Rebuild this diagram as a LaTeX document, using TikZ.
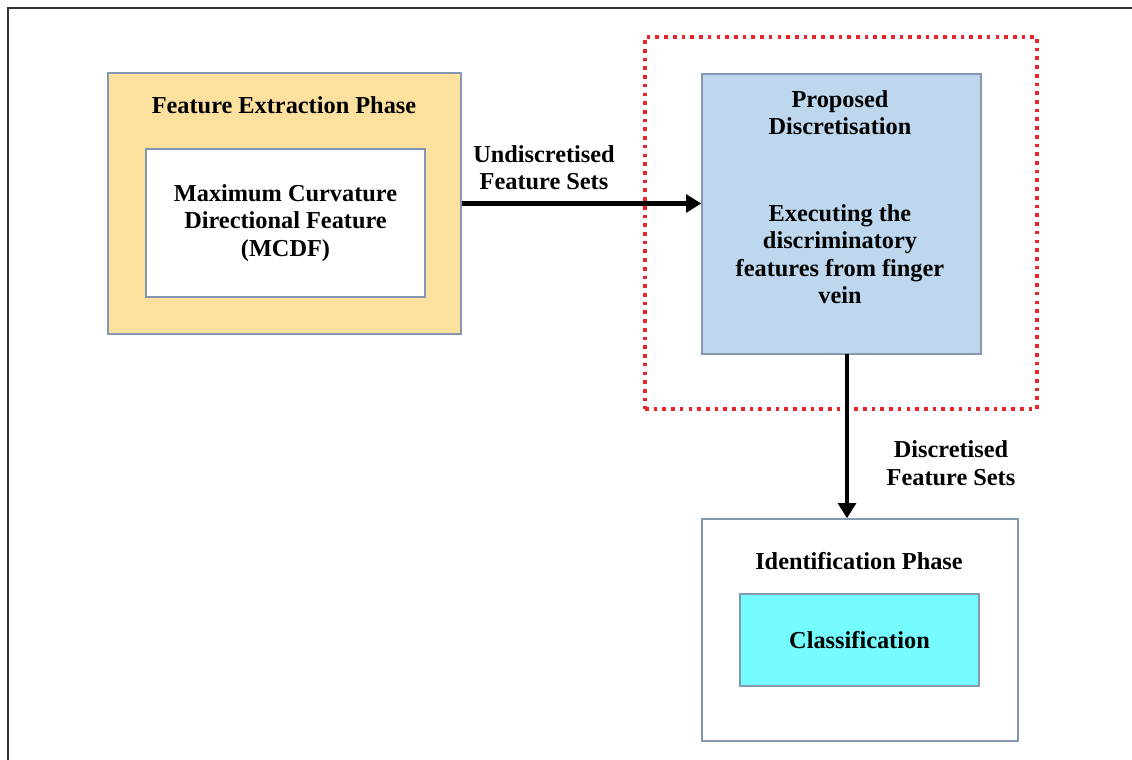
\documentclass[tikz,border=0pt]{standalone}
\usepackage{fontspec}
\setmainfont{Liberation Serif}
\usepackage{xcolor}
\usepackage{tikz}
\usetikzlibrary{positioning}
\usetikzlibrary{calc}
\usetikzlibrary{arrows.meta}

\definecolor{phaseyellow}{HTML}{FCE19E}
\definecolor{propblue}{HTML}{BDD7EE}
\definecolor{classcyan}{HTML}{75FCFE}
\definecolor{boxedge}{HTML}{8498B2}
\definecolor{dotred}{HTML}{E8262A}

\tikzset{
    phasebox/.style={draw=boxedge, line width=0.9pt, inner sep=0pt},
    lbl/.style={font=\fontsize{17.3}{19.5}\selectfont\bfseries, align=center, inner sep=0pt},
    flow/.style={line width=3.1pt, -{Triangle[length=0.38cm,width=0.44cm]}},
}

\begin{document}
\begin{tikzpicture}[x=0.025cm,y=-0.025cm]
    \useasboundingbox (0,0) rectangle (1132,760);
    \coordinate (fr1) at (8,760);
    \coordinate (fr2) at (8,8);
    \coordinate (fr3) at (1132,8);
    \draw[line width=1.4pt, black!80] (fr1) -- (fr2) -- (fr3);

    % feature extraction
    \node[phasebox, fill=phaseyellow, minimum width=8.825cm, minimum height=6.525cm] (extract) at (284.5,203.5) {};
    \node[lbl] (extracttitle) at (284,105) {Feature Extraction Phase};
    \node[phasebox, fill=white, minimum width=6.975cm, minimum height=3.7cm] (mcdf) at (285.5,223) {};
    \node[lbl] (mcdftext) at (mcdf) {Maximum Curvature\\Directional Feature\\(MCDF)};

    % proposed discretisation
    \node[draw=dotred, line width=2.6pt, dash pattern=on 2.6pt off 3.6pt, minimum width=9.8cm, minimum height=9.3cm, inner sep=0pt] (propframe) at (841,223) {};
    \node[phasebox, fill=propblue, minimum width=6.975cm, minimum height=7cm] (prop) at (841.5,214) {};
    \node[lbl] (proptitle) at (840,112.5) {Proposed\\Discretisation};
    \node[lbl] (proptext) at (840,254) {Executing the\\discriminatory\\features from finger\\vein};

    % identification
    \node[phasebox, fill=white, minimum width=7.9cm, minimum height=5.55cm] (ident) at (860,630) {};
    \node[lbl] (identtitle) at (859,561) {Identification Phase};
    \node[phasebox, fill=classcyan, minimum width=5.975cm, minimum height=2.3cm] (classif) at (859.5,640) {};
    \node[lbl] (classiftext) at (classif) {Classification};

    % connectors
    \draw[flow] (extract.east) -- (extract.east -| prop.west);
    \node[lbl] (undisc) at (544,168) {Undiscretised\\Feature Sets};

    \coordinate (down) at (847,354);
    \draw[flow] (down) -- (down |- ident.north);
    \node[lbl] (disc) at (951,463) {Discretised\\Feature Sets};
\end{tikzpicture}
\end{document}
